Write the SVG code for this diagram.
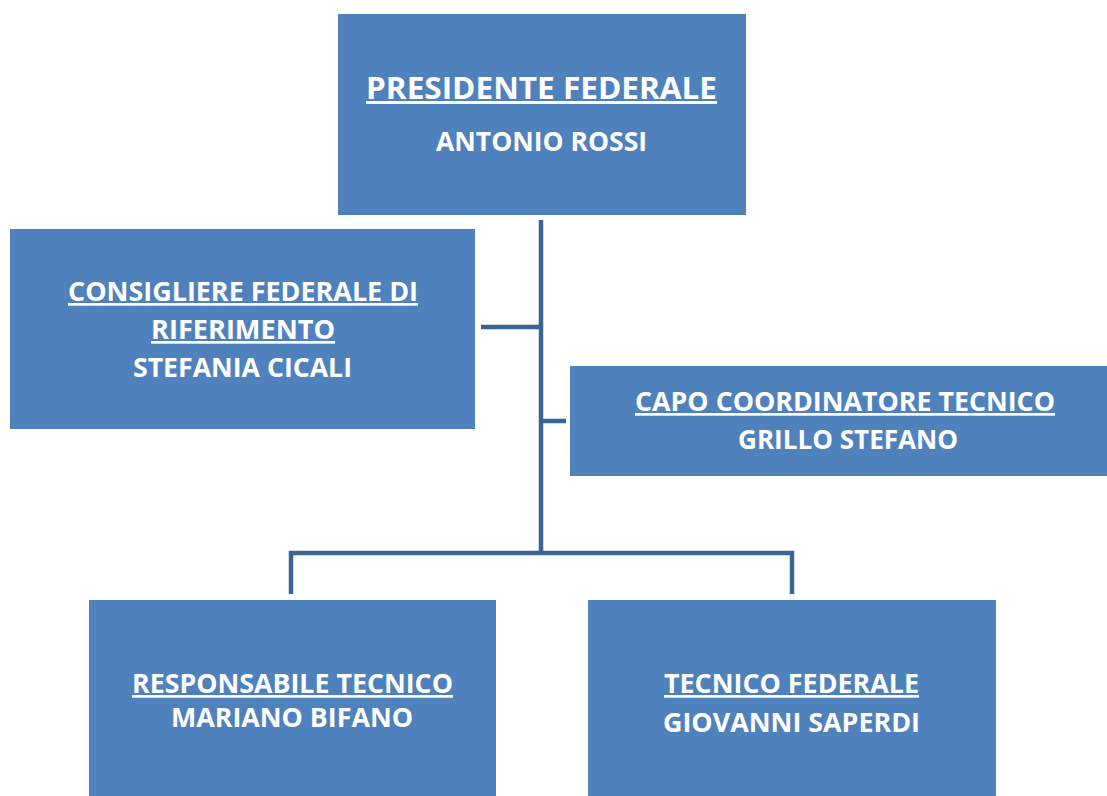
<svg xmlns="http://www.w3.org/2000/svg" width="1107" height="796" viewBox="0 0 1107 796">
<style>
.box{fill:#4F81BD;}
.t{font-family:"Open Sans","Liberation Sans",sans-serif;font-weight:bold;fill:#FFFFFF;text-anchor:middle;}
.u{text-decoration:underline;}
.conn{stroke:#3A6494;stroke-width:4.5;fill:none;stroke-linecap:butt;}
</style>
<rect width="1107" height="796" fill="#FFFFFF"/>
<g id="connectors">
<line class="conn" x1="541" y1="220" x2="541" y2="553"/>
<line class="conn" x1="481" y1="327" x2="541" y2="327"/>
<line class="conn" x1="541" y1="421" x2="566" y2="421"/>
<polyline class="conn" points="291,594 291,553 792,553 792,594"/>
</g>
<g id="presidente">
<rect class="box" x="338" y="14" width="408" height="201"/>
<text class="t u" x="541.5" y="99" font-size="30" textLength="351" lengthAdjust="spacingAndGlyphs">PRESIDENTE FEDERALE</text>
<text class="t" x="541.5" y="151" font-size="26" textLength="211" lengthAdjust="spacingAndGlyphs">ANTONIO ROSSI</text>
</g>
<g id="consigliere">
<rect class="box" x="10" y="229" width="465" height="200"/>
<text class="t u" x="243" y="301" font-size="27" textLength="350" lengthAdjust="spacingAndGlyphs">CONSIGLIERE FEDERALE DI</text>
<text class="t u" x="243" y="339" font-size="27" textLength="184" lengthAdjust="spacingAndGlyphs">RIFERIMENTO</text>
<text class="t" x="242.5" y="377" font-size="27" textLength="219" lengthAdjust="spacingAndGlyphs">STEFANIA CICALI</text>
</g>
<g id="capo">
<rect class="box" x="570" y="366" width="537" height="110"/>
<text class="t u" x="845" y="411" font-size="27" textLength="420" lengthAdjust="spacingAndGlyphs">CAPO COORDINATORE TECNICO</text>
<text class="t" x="848" y="449" font-size="27" textLength="220" lengthAdjust="spacingAndGlyphs">GRILLO STEFANO</text>
</g>
<g id="responsabile">
<rect class="box" x="89" y="600" width="407" height="196"/>
<text class="t u" x="292.5" y="693" font-size="27" textLength="321" lengthAdjust="spacingAndGlyphs">RESPONSABILE TECNICO</text>
<text class="t" x="292" y="727" font-size="27" textLength="242" lengthAdjust="spacingAndGlyphs">MARIANO BIFANO</text>
</g>
<g id="tecnico">
<rect class="box" x="588" y="600" width="408" height="196"/>
<text class="t u" x="791.5" y="693" font-size="27" textLength="255" lengthAdjust="spacingAndGlyphs">TECNICO FEDERALE</text>
<text class="t" x="791.5" y="732" font-size="27" textLength="257" lengthAdjust="spacingAndGlyphs">GIOVANNI SAPERDI</text>
</g>
</svg>
